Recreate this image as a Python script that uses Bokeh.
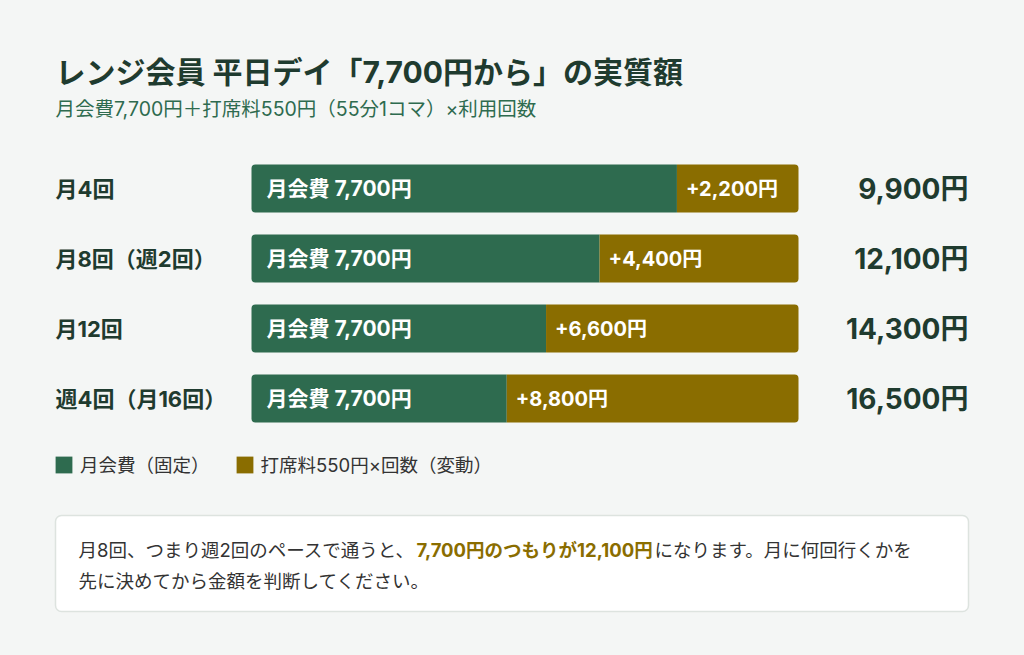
from bokeh.plotting import figure
from bokeh.models import Range1d, Label, Legend, LegendItem, ColumnDataSource
from bokeh.core.properties import value
from bokeh.embed import file_html
from bokeh.resources import INLINE

# データ
categories = ["月4回", "月8回（週2回）", "月12回", "週4回（月16回）"]
visits = [4, 8, 12, 16]
monthly_fee = [7700, 7700, 7700, 7700]
seat_fee = [2200, 4400, 6600, 8800]
totals = [9900, 12100, 14300, 16500]

FONT = "Inter, 'Noto Sans CJK JP'"
GREEN = "#2e6b4f"
GOLD = "#8a6d00"
DARK = "#1f3b2f"
TEXT = "#333333"
BG = "#f4f6f5"

# レイアウト (ページ座標 px)
BAR_L, BAR_R = 251, 798
ROW_Y0, ROW_STEP, BAR_H = 188, 70, 48
W, H = 1008, 639
px_per_pct = (BAR_R - BAR_L) / 100

rows_y = [ROW_Y0 + i * ROW_STEP for i in range(len(categories))]
fixed_pct = [100 * f / t for f, t in zip(monthly_fee, totals)]

source = ColumnDataSource(dict(
    y=rows_y,
    cat=categories,
    fixed=fixed_pct,
    full=[100] * len(categories),
    fixed_lbl=[f"月会費 {f:,}円" for f in monthly_fee],
    seat_lbl=[f"+{s:,}円" for s in seat_fee],
    total_lbl=[f"{t:,}円" for t in totals],
    zero=[0] * len(categories),
))

p = figure(width=W, height=H, output_backend="svg", toolbar_location=None,
           x_range=Range1d(0, W), y_range=Range1d(H, 0),
           min_border=0, tools="")
p.extra_x_ranges = {"pct": Range1d(-BAR_L / px_per_pct, 100 + (W - BAR_R) / px_per_pct)}
p.axis.visible = False
p.grid.visible = False
p.outline_line_color = None
p.background_fill_color = BG
p.border_fill_color = BG

r_fixed = p.hbar(y="y", left="zero", right="fixed", height=BAR_H, source=source,
                 x_range_name="pct", fill_color=GREEN, line_color=None,
                 border_radius=(4, 0, 0, 4))
r_seat = p.hbar(y="y", left="fixed", right="full", height=BAR_H, source=source,
                x_range_name="pct", fill_color=GOLD, line_color=None,
                border_radius=(0, 4, 4, 0))

# バー内ラベル
p.text(x="zero", y="y", text="fixed_lbl", source=source, x_range_name="pct",
       x_offset=15, text_baseline="middle", text_color="white",
       text_font=value(FONT), text_font_style="bold", text_font_size="21px")
p.text(x="fixed", y="y", text="seat_lbl", source=source, x_range_name="pct",
       x_offset=9, text_baseline="middle", text_color="white",
       text_font=value(FONT), text_font_style="bold", text_font_size="20px")

# 行ラベル
p.text(x=55, y="y", text="cat", source=source, text_baseline="middle",
       text_color=DARK, text_font=value(FONT), text_font_style="bold",
       text_font_size="22px")
# 合計
p.text(x=968, y="y", text="total_lbl", source=source, text_baseline="middle",
       text_align="right", text_color=DARK, text_font=value(FONT),
       text_font_style="bold", text_font_size="28px")

# タイトル
p.add_layout(Label(x=55, y=71, text="レンジ会員 平日デイ「7,700円から」の実質額",
                   text_baseline="middle", text_color=DARK, text_font=FONT,
                   text_font_style="bold", text_font_size="30px"))
p.add_layout(Label(x=55, y=108, text="月会費7,700円＋打席料550円（55分1コマ）×利用回数",
                   text_baseline="middle", text_color=GREEN, text_font=FONT,
                   text_font_size="19.5px"))

# 凡例
legend = Legend(items=[LegendItem(label="月会費（固定）", renderers=[r_fixed]),
                       LegendItem(label="打席料550円×回数（変動）", renderers=[r_seat])],
                orientation="horizontal", location=(53, 162),
                glyph_width=21, glyph_height=21, label_standoff=6, spacing=24,
                padding=0, margin=0, background_fill_alpha=0, border_line_alpha=0,
                label_text_font=FONT, label_text_font_size="18.5px",
                label_text_color=TEXT)
p.add_layout(legend, "center")

# 注記ボックス
p.quad(left=55, right=968, top=515, bottom=611, fill_color="white",
       line_color="#dde3df", line_width=1.5, border_radius=6)
note_style = dict(text_baseline="middle", text_font=FONT, text_font_size="18.5px")
p.add_layout(Label(x=78, y=549, text="月8回、つまり週2回のペースで通うと、",
                   text_color=TEXT, **note_style))
p.add_layout(Label(x=416, y=549, text="7,700円のつもりが12,100円",
                   text_color=GOLD, text_font_style="bold", **note_style))
p.add_layout(Label(x=654, y=549, text="になります。月に何回行くかを",
                   text_color=TEXT, **note_style))
p.add_layout(Label(x=78, y=580, text="先に決めてから金額を判断してください。",
                   text_color=TEXT, **note_style))

html = file_html(p, INLINE, title="レンジ会員 実質額")
html = html.replace("<body>", f'<body style="background:{BG}">')
open("out.html", "w").write(html)
